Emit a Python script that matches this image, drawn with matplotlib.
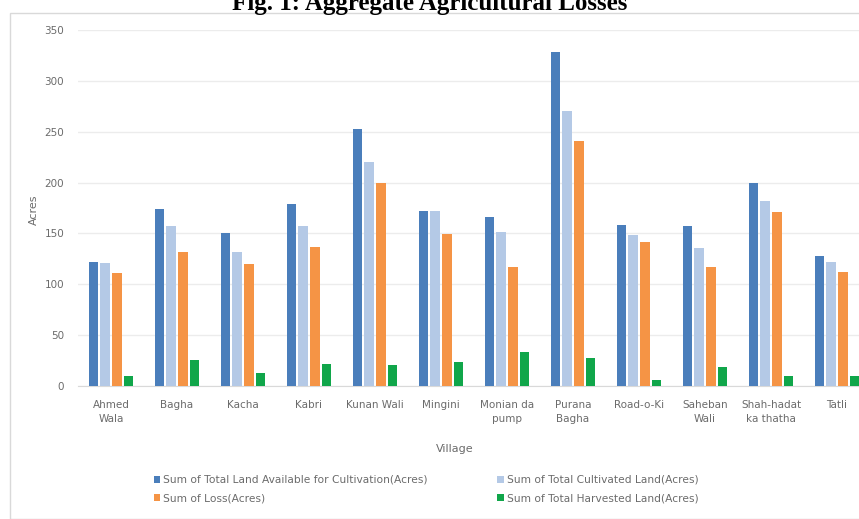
import numpy as np
from matplotlib import pyplot as plt

villages = ['Ahmed\nWala', 'Bagha', 'Kacha', 'Kabri', 'Kunan Wali', 'Mingini',
            'Monian da\npump', 'Purana\nBagha', 'Road-o-Ki', 'Saheban\nWali',
            'Shah-hadat\nka thatha', 'Tatli']
available = [122, 174, 150, 179, 253, 172, 166, 328, 158, 157, 200, 128]
cultivated = [121, 157, 132, 157, 220, 172, 151, 270, 148, 136, 182, 122]
loss = [111, 132, 120, 137, 200, 149, 117, 241, 142, 117, 171, 112]
harvested = [10, 26, 13, 22, 21, 24, 33, 28, 6, 19, 10, 10]

series = [
    ('Sum of Total Land Available for Cultivation(Acres)', available, '#4a7ebb'),
    ('Sum of Total Cultivated Land(Acres)', cultivated, '#b4c9e6'),
    ('Sum of Loss(Acres)', loss, '#f59445'),
    ('Sum of Total Harvested Land(Acres)', harvested, '#10a64a'),
]

W, H = 859, 519
fig = plt.figure(figsize=(W / 100, H / 100), dpi=100)

# outer chart frame
frame = plt.Rectangle((10 / W, 0), 1, 1 - 13 / H, transform=fig.transFigure,
                      fill=False, edgecolor='#d9d9d9', lw=1)
fig.add_artist(frame)

fig.text(0.5, 1 - 10 / H, 'Fig. 1: Aggregate Agricultural Losses', ha='center',
         va='baseline', fontsize=18, fontweight='bold', family='Liberation Serif')

ax = fig.add_axes([78 / W, 1 - 386 / H, (870 - 78) / W, (386 - 30) / H])

x = np.arange(len(villages))
step = 0.18
width = 0.14
handles = []
for i, (name, vals, col) in enumerate(series):
    b = ax.bar(x + (i - 1.5) * step, vals, width, color=col, label=name, zorder=3)
    handles.append(b)

ax.set_xlim(-0.5, 11.5)
ax.set_ylim(0, 350)
ax.set_yticks(np.arange(0, 351, 50))
ax.grid(axis='y', color='#ececec', lw=1, zorder=0)
for s in ['top', 'right', 'left']:
    ax.spines[s].set_visible(False)
ax.spines['bottom'].set_color('#d9d9d9')
ax.tick_params(axis='both', length=0, labelsize=7.5, labelcolor='#6b6b6b')
ax.tick_params(axis='y', pad=10)
ax.tick_params(axis='x', pad=10)
ax.set_xticks(x)
ax.set_xticklabels(villages, linespacing=1.5)
ax.set_ylabel('Acres', fontsize=8, color='#6b6b6b')
ax.yaxis.set_label_coords(-(78 - 39) / (870 - 78), (386 - 210) / (386 - 30))
ax.set_xlabel('Village', fontsize=8, color='#6b6b6b')
ax.xaxis.set_label_coords((455 - 78) / (870 - 78), -(444 - 386) / (386 - 30))

# legend rows: available / cultivated, then loss / harvested
order = [handles[0], handles[2], handles[1], handles[3]]
leg = fig.legend(handles=order, loc='center left',
                 bbox_to_anchor=(144 / W, 1 - 489 / H), ncol=2,
                 frameon=False, fontsize=7.7, handlelength=0.6, handleheight=0.6,
                 handletextpad=0.3, columnspacing=6.5, labelspacing=0.75)
for t in leg.get_texts():
    t.set_color('#6b6b6b')

fig.savefig('out.png', dpi=100)
